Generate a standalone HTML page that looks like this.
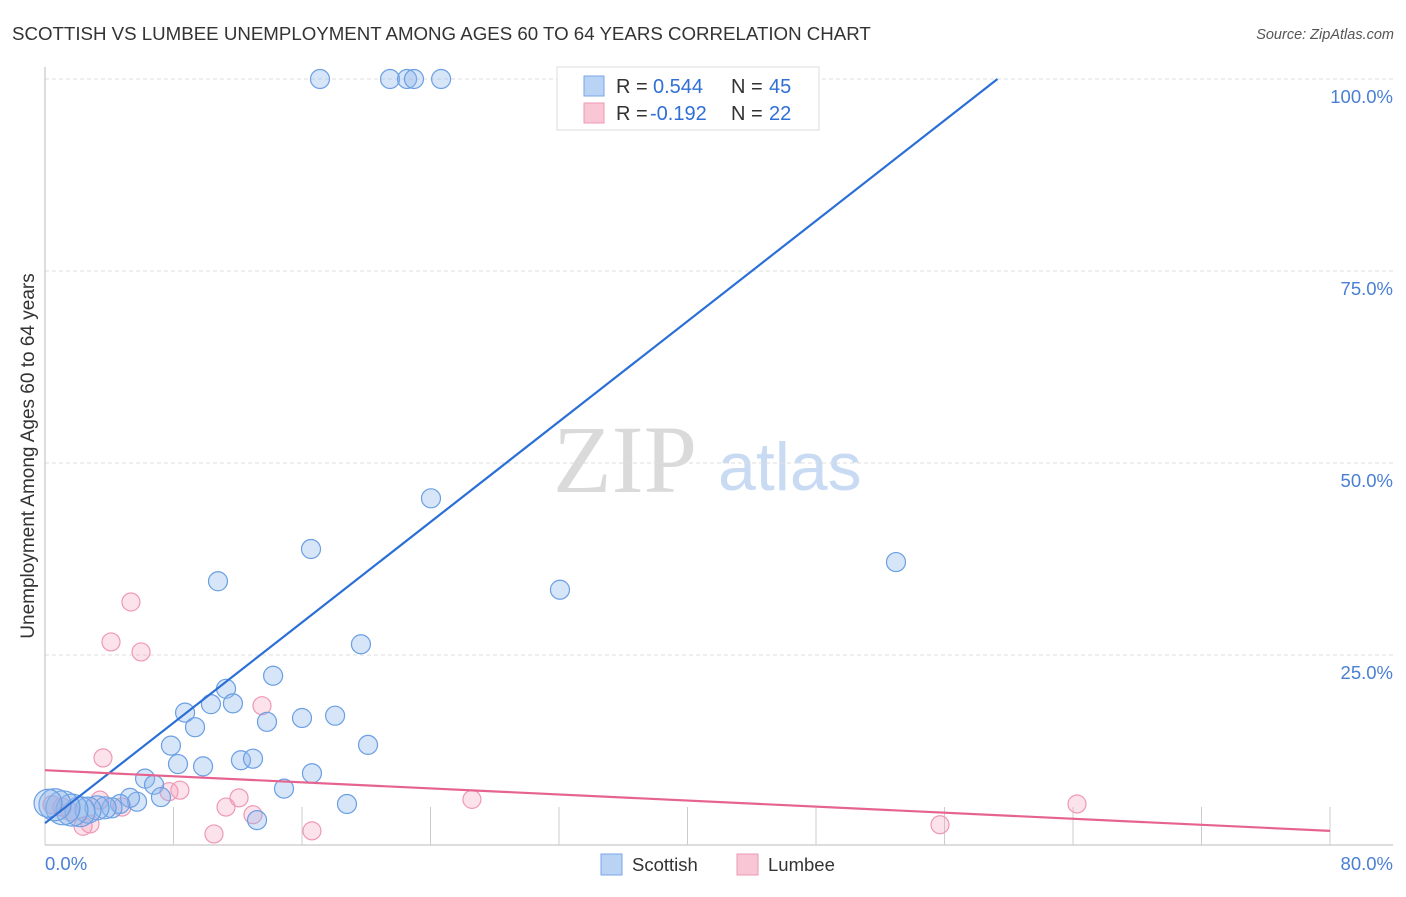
<!DOCTYPE html>
<html><head><meta charset="utf-8"><style>
body{margin:0;background:#fff;font-family:"Liberation Sans",sans-serif}
</style></head><body>
<svg id="c" width="1406" height="892" xmlns="http://www.w3.org/2000/svg">
<text x="12" y="40" font-size="18.7" fill="#333">SCOTTISH VS LUMBEE UNEMPLOYMENT AMONG AGES 60 TO 64 YEARS CORRELATION CHART</text>
<text x="1394" y="39" font-size="14.5" fill="#555" font-style="italic" text-anchor="end">Source: ZipAtlas.com</text>
<text x="553" y="492" font-size="96" fill="#dadada" font-family="Liberation Serif,serif">ZIP</text>
<text x="718" y="490" font-size="68" fill="#c9dbf3">atlas</text>
<text transform="translate(34,456) rotate(-90)" font-size="19" fill="#333" text-anchor="middle">Unemployment Among Ages 60 to 64 years</text>
<g id="grid"></g><g id="pts"></g><g id="lines"></g>
<g>
<rect x="557" y="67" width="262" height="63" fill="#fff" stroke="#ddd"/>
<rect x="584" y="76" width="20" height="20" fill="#b9d3f5" stroke="#7aa6e6"/>
<rect x="584" y="103" width="20" height="20" fill="#f9c6d6" stroke="#ee98b4"/>
<g font-size="20" fill="#333">
<text x="616" y="93">R =</text><text x="653" y="93" fill="#2f6fd6">0.544</text><text x="731" y="93">N =</text><text x="769" y="93" fill="#2f6fd6">45</text>
<text x="616" y="120">R =</text><text x="650" y="120" fill="#2f6fd6">-0.192</text><text x="731" y="120">N =</text><text x="769" y="120" fill="#2f6fd6">22</text>
</g>
</g>
<g>
<rect x="601" y="854" width="21" height="21" fill="#b9d3f5" stroke="#7aa6e6"/>
<text x="632" y="871" font-size="18.5" fill="#333">Scottish</text>
<rect x="737" y="854" width="21" height="21" fill="#f9c6d6" stroke="#ee98b4"/>
<text x="768" y="871" font-size="18.5" fill="#333">Lumbee</text>
</g>
</svg>
<script>
const xTicks=[0,8,16,24,32,40,48,56,64,72,80];
const yTicks=[25,50,75,100];
const yTickLabels=["25.0%","50.0%","75.0%","100.0%"];
const xEndLabels=["0.0%","80.0%"];
const scotX=[17.12,21.48,22.54,22.97,24.66,24.03,16.56,10.77,32.06,52.98,19.67,14.2,11.27,8.72,10.33,11.7,9.34,13.82,16.0,18.06,7.84,20.11,8.28,9.84,12.2,12.95,6.23,6.79,14.88,16.62,18.8,13.2,5.73,7.22,5.29,4.67,4.17,3.74,3.24,2.68,2.18,1.68,1.12,0.62,0.19];
const scotY=[100,100,100,100,100,45.4,38.8,34.6,33.5,37.1,26.4,22.3,20.6,17.5,18.6,18.7,15.6,16.3,16.8,17.1,13.2,13.3,10.8,10.5,11.3,11.5,8.9,8.1,7.6,9.6,5.6,3.5,5.9,6.5,6.4,5.6,5.1,5.1,5.1,4.8,4.6,4.8,5.1,5.5,5.7];
const scotR=[9.5,9.5,9.5,9.5,9.5,9.5,9.5,9.5,9.5,9.5,9.5,9.5,9.5,9.5,9.5,9.5,9.5,9.5,9.5,9.5,9.5,9.5,9.5,9.5,9.5,9.5,9.5,9.5,9.5,9.5,9.5,9.5,9.5,9.5,9.5,9.5,10,11,12,13,15,16,17,16,14];
const lumX=[5.35,4.11,5.98,3.61,13.51,7.72,11.27,12.08,12.95,10.52,16.62,26.58,55.72,64.25,4.79,2.8,2.37,1.56,1.06,0.44,8.4,3.42];
const lumY=[31.9,26.7,25.4,11.6,18.4,7.2,5.2,6.4,4.2,1.7,2.1,6.2,2.9,5.6,5.2,3.0,2.7,4.6,5.2,5.5,7.4,6.1];
const scotLine=[[0,3.1],[59.3,100]];
const lumLine=[[0,10.0],[80,2.1]];
const NS="http://www.w3.org/2000/svg";
const X=v=>45+v/80*1285, Y=v=>847-v/100*768;
function mk(t,a,p){const e=document.createElementNS(NS,t);for(const k in a)e.setAttribute(k,a[k]);document.getElementById(p).appendChild(e);return e;}
yTicks.forEach((t,i)=>{
 const g=mk('line',{x1:45,x2:1393,y1:Y(t),y2:Y(t),stroke:'#ddd','stroke-dasharray':'4,3'},'grid');
 
 
 const l=mk('text',{x:1393,y:Y(t)+24,'font-size':18.5,fill:'#4a7fd4','text-anchor':'end'},'grid');l.textContent=yTickLabels[i];
 
 
});
const ax=mk('line',{x1:45,x2:45,y1:67,y2:845,stroke:'#bbb'},'grid');


const bx=mk('line',{x1:45,x2:1393,y1:845,y2:845,stroke:'#bbb'},'grid');


xTicks.forEach(t=>{const k=mk('line',{x1:X(t),x2:X(t),y1:807,y2:845,stroke:'#ccc'},'grid');
 
 });
[[0,'start',45],[1,'end',1393]].forEach(([i,a,x])=>{const l=mk('text',{x:x,y:870,'font-size':18.5,fill:'#4a7fd4','text-anchor':a},'grid');l.textContent=xEndLabels[i];
 
 });
lumX.forEach((x,i)=>{const c=mk('circle',{cx:X(x),cy:Y(lumY[i]),r:9,fill:'rgba(244,160,188,0.3)',stroke:'#ee98b4','stroke-width':1.2},'pts');
 
 });
scotX.forEach((x,i)=>{const c=mk('circle',{cx:X(x),cy:Y(scotY[i]),r:scotR[i],fill:'rgba(140,180,235,0.35)',stroke:'#6a9fe3','stroke-width':1.2},'pts');
 
 });
const sl=mk('line',{x1:X(scotLine[0][0]),y1:Y(scotLine[0][1]),x2:X(scotLine[1][0]),y2:Y(scotLine[1][1]),stroke:'#2a6fd6','stroke-width':2.2},'lines');


const ll=mk('line',{x1:X(lumLine[0][0]),y1:Y(lumLine[0][1]),x2:X(lumLine[1][0]),y2:Y(lumLine[1][1]),stroke:'#e5638e','stroke-width':2.2},'lines');


</script>
</body></html>
